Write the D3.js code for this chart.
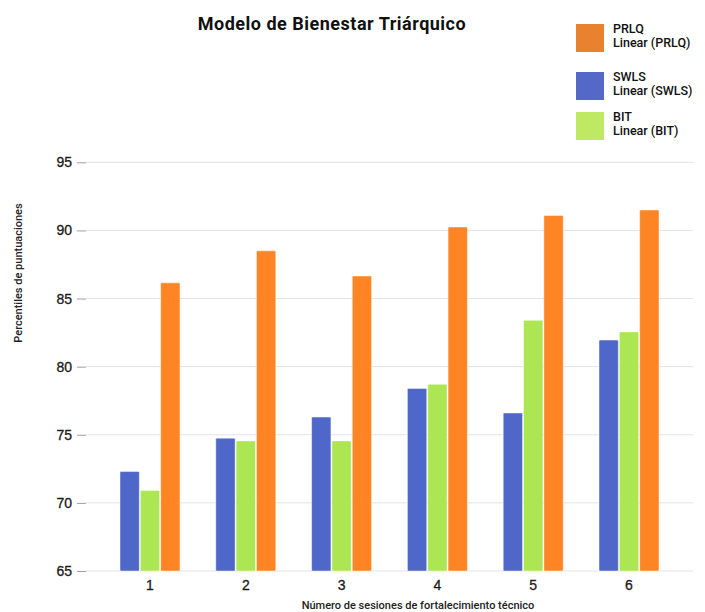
<!DOCTYPE html>
<html>
<head>
<meta charset="utf-8">
<script src="https://cdn.jsdelivr.net/npm/d3@7"></script>
<style>
  body { margin: 0; background: #fff; }
  svg { font-family: Roboto, "Open Sans", sans-serif; }
</style>
</head>
<body>
<div id="chart"></div>
<script>
const sessions = ['1', '2', '3', '4', '5', '6'];
const series = ['SWLS', 'BIT', 'PRLQ'];
const swls = [72.3, 74.75, 76.3, 78.4, 76.6, 81.95];
const bit = [70.9, 74.55, 74.55, 78.7, 83.4, 82.55];
const prlq = [86.15, 88.5, 86.65, 90.25, 91.1, 91.5];
const yTicks = [65, 70, 75, 80, 85, 90, 95];

const barColors = { SWLS: '#4f67c8', BIT: '#ace652', PRLQ: '#ff8424' };
const legendItems = [
  { name: 'PRLQ', color: '#e8822f' },
  { name: 'SWLS', color: '#5468c8' },
  { name: 'BIT', color: '#bfe963' },
];

const width = 705;
const height = 612;

const rows = sessions.map((s, i) => ({
  session: s,
  values: { SWLS: swls[i], BIT: bit[i], PRLQ: prlq[i] },
}));

const svg = d3
  .select('#chart')
  .append('svg')
  .attr('width', width)
  .attr('height', height)
  .attr('xmlns', 'http://www.w3.org/2000/svg');

/* Scales
-----------------------------------------------------------------------------*/
const x = d3
  .scaleBand()
  .domain(sessions)
  .range([86, 693])
  .paddingInner(0.374)
  .paddingOuter(0.355);

const xSub = d3
  .scaleBand()
  .domain(series)
  .range([0, x.bandwidth()])
  .paddingInner(0.05);

const y = d3.scaleLinear().domain([65, 95]).range([571, 162.3]);

/* Grid & axes
-----------------------------------------------------------------------------*/
const yAxis = svg
  .append('g')
  .attr('transform', 'translate(86,0)')
  .call(
    d3
      .axisLeft(y)
      .tickValues(yTicks)
      .tickSize(9)
      .tickPadding(5)
  );
yAxis.select('.domain').remove();
yAxis.selectAll('.tick line').attr('stroke', '#9e9e9e');
yAxis
  .selectAll('.tick text')
  .attr('font-size', 14)
  .attr('font-weight', 500)
  .attr('fill', '#1a1a1a')
  .attr('stroke', '#1a1a1a')
  .attr('stroke-width', 0.3);

svg
  .append('g')
  .selectAll('line')
  .data(yTicks)
  .join('line')
  .attr('x1', 86)
  .attr('x2', 693)
  .attr('y1', (d) => y(d))
  .attr('y2', (d) => y(d))
  .attr('stroke', '#e3e3e3')
  .attr('stroke-width', 1);

const xAxis = svg
  .append('g')
  .attr('transform', 'translate(0,571)')
  .call(d3.axisBottom(x).tickSize(0).tickPadding(9));
xAxis.select('.domain').remove();
xAxis
  .selectAll('.tick text')
  .attr('font-size', 14)
  .attr('font-weight', 500)
  .attr('fill', '#1a1a1a')
  .attr('stroke', '#1a1a1a')
  .attr('stroke-width', 0.3);

/* Bars
-----------------------------------------------------------------------------*/
const groups = svg
  .append('g')
  .selectAll('g')
  .data(rows)
  .join('g')
  .attr('transform', (d) => `translate(${x(d.session)},0)`);

groups
  .selectAll('rect')
  .data((d) => series.map((s) => ({ key: s, value: d.values[s] })))
  .join('rect')
  .attr('x', (d) => xSub(d.key))
  .attr('y', (d) => y(d.value))
  .attr('width', xSub.bandwidth())
  .attr('height', (d) => y(65) - y(d.value))
  .attr('rx', 1)
  .attr('fill', (d) => barColors[d.key])
  .attr('stroke', 'rgba(255,255,255,0.45)')
  .attr('stroke-width', 1);

/* Titles
-----------------------------------------------------------------------------*/
svg
  .append('text')
  .attr('x', 332)
  .attr('y', 30)
  .attr('text-anchor', 'middle')
  .attr('font-size', 18)
  .attr('font-weight', 'bold')
  .attr('letter-spacing', 0.5)
  .attr('fill', '#111')
  .text('Modelo de Bienestar Triárquico');

svg
  .append('text')
  .attr('x', 418)
  .attr('y', 609)
  .attr('text-anchor', 'middle')
  .attr('font-size', 11)
  .attr('font-weight', 500)
  .attr('fill', '#222')
  .text('Número de sesiones de fortalecimiento técnico');

svg
  .append('text')
  .attr('transform', 'translate(22,273) rotate(-90)')
  .attr('text-anchor', 'middle')
  .attr('font-size', 11)
  .attr('font-weight', 500)
  .attr('fill', '#222')
  .text('Percentiles de puntuaciones');

/* Legend
-----------------------------------------------------------------------------*/
const legendTops = [24, 72, 112];
const legend = svg
  .append('g')
  .selectAll('g')
  .data(legendItems)
  .join('g')
  .attr('transform', (d, i) => `translate(576,${legendTops[i]})`);

legend
  .append('rect')
  .attr('width', 28)
  .attr('height', 28)
  .attr('fill', (d) => d.color);

legend
  .append('text')
  .attr('x', 37)
  .attr('y', 9)
  .attr('font-size', 12.5)
  .attr('font-weight', 500)
  .attr('fill', '#111')
  .text((d) => d.name);

legend
  .append('text')
  .attr('x', 37)
  .attr('y', 23)
  .attr('font-size', 12.5)
  .attr('font-weight', 500)
  .attr('fill', '#111')
  .text((d) => `Linear (${d.name})`);
</script>
</body>
</html>
